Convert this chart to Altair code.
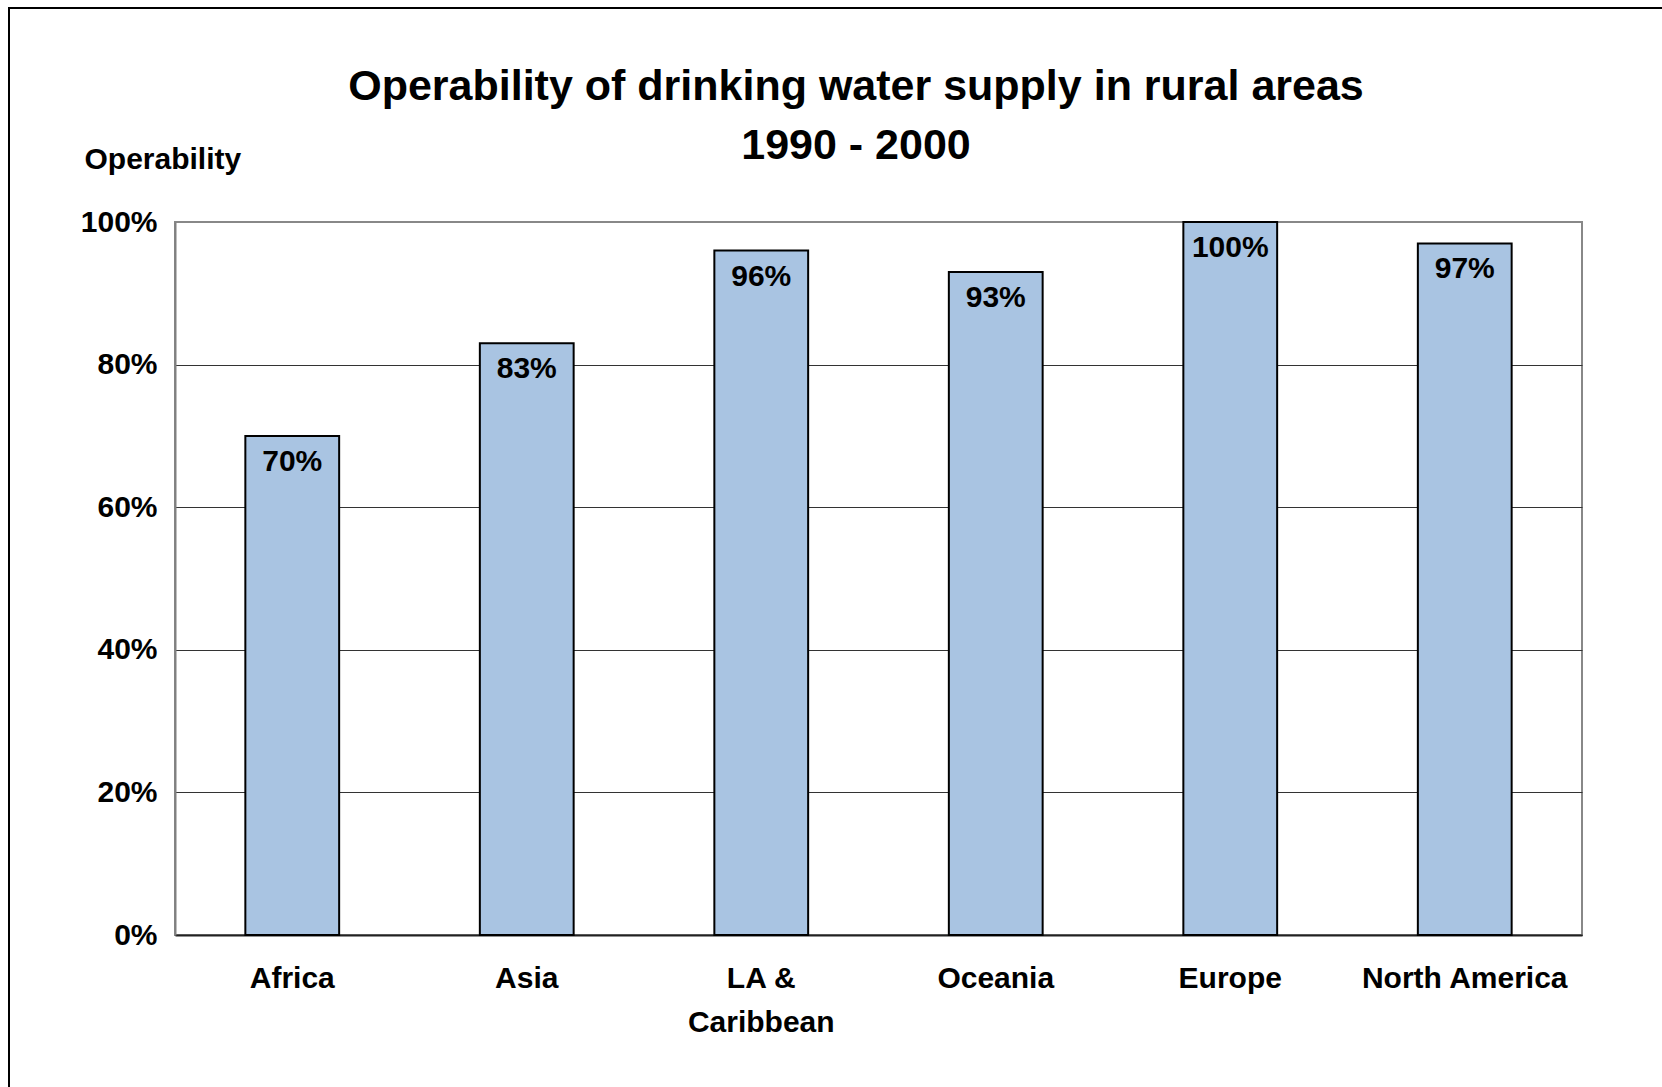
import altair as alt
import pandas as pd

regions = ["Africa", "Asia", "LA & Caribbean", "Oceania", "Europe", "North America"]
operability = [0.70, 0.83, 0.96, 0.93, 1.00, 0.97]
y_ticks = [0, 0.2, 0.4, 0.6, 0.8, 1.0]
title_line1 = "Operability of drinking water supply in rural areas"
title_line2 = "1990 - 2000"

df = pd.DataFrame({"region": regions, "value": operability})
FONT = "Liberation Sans"
FS = 30

x_enc = alt.X(
    "region:N",
    sort=regions,
    scale=alt.Scale(paddingInner=0.6, paddingOuter=0.3),
    axis=alt.Axis(
        title=None,
        labelAngle=0,
        labelFont=FONT,
        labelFontSize=FS,
        labelFontWeight="bold",
        labelColor="black",
        labelPadding=28,
        labelLineHeight=44,
        labelBaseline="top",
        labelLimit=400,
        labelExpr="datum.label == 'LA & Caribbean' ? ['LA &', 'Caribbean'] : datum.label",
        ticks=False,
        domainColor="#222222",
        domainWidth=2,
        grid=False,
    ),
)

y_enc = alt.Y(
    "value:Q",
    scale=alt.Scale(domain=[0, 1], nice=False),
    axis=alt.Axis(
        values=y_ticks,
        format=".0%",
        title="Operability",
        titleAngle=0,
        titleFont=FONT,
        titleFontSize=FS,
        titleFontWeight="bold",
        titleColor="black",
        titleAlign="left",
        titleBaseline="middle",
        titleX=-91,
        titleY=-63,
        labelFont=FONT,
        labelFontSize=FS,
        labelFontWeight="bold",
        labelColor="black",
        labelPadding=18,
        ticks=False,
        domainColor="#808080",
        domainWidth=2,
        grid=True,
        gridColor={"condition": {"test": "datum.value >= 1", "value": "#888888"}, "value": "#333333"},
        gridWidth=1,
    ),
)

bars = alt.Chart(df).mark_bar(
    color="#A9C4E2", stroke="black", strokeWidth=2
).encode(x=x_enc, y=y_enc)

labels = alt.Chart(df).mark_text(
    font=FONT, fontSize=FS, fontWeight="bold", color="black",
    baseline="top", dy=11, align="center"
).encode(
    x=alt.X("region:N", sort=regions),
    y="value:Q",
    text=alt.Text("value:Q", format=".0%"),
)

one = pd.DataFrame({"a": [0]})

frame = alt.Chart(one).mark_rect(
    fillOpacity=0, stroke="black", strokeWidth=2
).encode(
    x=alt.value(-166), x2=alt.value(1700),
    y=alt.value(-214), y2=alt.value(1100),
)

title1 = alt.Chart(pd.DataFrame({"t": [title_line1]})).mark_text(
    font=FONT, fontSize=43, fontWeight="bold", color="black",
    align="center", baseline="middle"
).encode(x=alt.value(681), y=alt.value(-135), text="t:N")

title2 = alt.Chart(pd.DataFrame({"t": [title_line2]})).mark_text(
    font=FONT, fontSize=43, fontWeight="bold", color="black",
    align="center", baseline="middle"
).encode(x=alt.value(681), y=alt.value(-76), text="t:N")

chart = alt.layer(bars, labels, frame, title1, title2).properties(
    width=1407,
    height=713,
    autosize=alt.AutoSizeParams(type="none"),
    padding={"left": 175, "top": 222, "right": 80, "bottom": 152},
    background="white",
).configure_view(
    stroke="#888888", strokeWidth=2
)

chart.save("out.html", embed_options={"renderer": "svg", "actions": False})
